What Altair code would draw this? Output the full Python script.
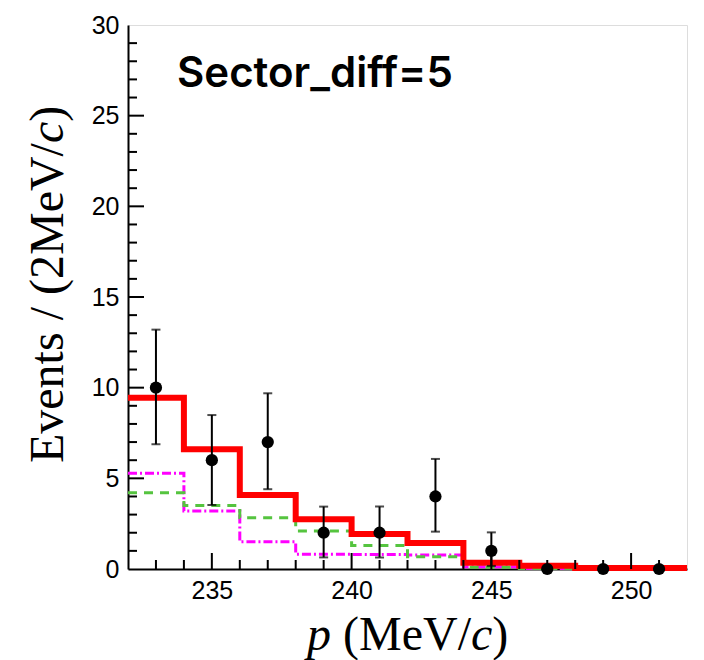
import altair as alt
import pandas as pd

# --- data ---
bin_edges = [232, 234, 236, 238, 240, 242, 244, 246, 248, 250, 252]
total_fit = [9.45, 6.6, 4.08, 2.74, 1.93, 1.43, 0.35, 0.18, 0.05, 0.05]
comp_green = [4.2, 3.5, 2.83, 2.1, 1.3, 0.68, 0.1, 0.03, 0.01, 0.01]
comp_magenta = [5.28, 3.2, 1.5, 0.81, 0.8, 0.77, 0.13, 0.03, 0.01, 0.01]

p_centers = [233, 235, 237, 239, 241, 243, 245, 247, 249, 251]
counts = [10, 6, 7, 2, 2, 4, 1, 0, 0, 0]
err_low = [6.88, 3.53, 4.4, 0.64, 0.64, 2.06, 0.17, 0, 0, 0]
err_high = [13.2, 8.49, 9.69, 3.44, 3.44, 6.07, 2.02, 0, 0, 0]

x_minor_ticks = [v for v in range(233, 252) if v % 5 != 0]
x_major_ticks = [235, 240, 245, 250]
y_minor_ticks = [v for v in range(1, 30) if v % 5 != 0]
y_major_ticks = [5, 10, 15, 20, 25]

# axis titles split into (text, italic, space before) pieces
x_title_parts = [("p", True, 0), ("(MeV/", False, 1), ("c", True, 0), (")", False, 0)]
y_title_parts = [("Events / (2MeV/", False, 0), ("c", True, 0), (")", False, 0)]

W, H = 559, 544
XS = alt.Scale(domain=[232, 252], nice=False, zero=False)
YS = alt.Scale(domain=[0, 30], nice=False, zero=False)
TITLE_SIZE = 48

# Times / Liberation Serif advance widths (em)
EM = {"E": .611, "v": .5, "e": .444, "n": .5, "t": .278, "s": .389, " ": .25,
      "/": .278, "(": .333, ")": .333, "2": .5, "M": .889, "V": .722,
      "c": .444, "p": .5}


def text_width(s):
    return sum(EM.get(ch, .5) for ch in s) * TITLE_SIZE


def hist_df(vals):
    return pd.DataFrame({"x": bin_edges, "y": list(vals) + [vals[-1]]})


pts = pd.DataFrame({"x": p_centers, "n": counts, "lo": err_low, "hi": err_high})

base_x = alt.X("x:Q", scale=XS,
               axis=alt.Axis(title="", values=x_major_ticks, ticks=False,
                             grid=False, labelFont="Liberation Sans", labelFontSize=25,
                             labelPadding=9, labelColor="black", domainColor="black",
                             domainWidth=2))
base_y = alt.Y("y:Q", scale=YS,
               axis=alt.Axis(title="", values=[0, 5, 10, 15, 20, 25, 30],
                             ticks=False, grid=False, labelFont="Liberation Sans",
                             labelFontSize=25, labelPadding=9, labelColor="black",
                             domainColor="black", domainWidth=2))

magenta = alt.Chart(hist_df(comp_magenta)).mark_line(
    interpolate="step-after", color="#ff00ff", strokeWidth=3, strokeDash=[9, 3, 2, 3]
).encode(x=base_x, y=base_y)

green = alt.Chart(hist_df(comp_green)).mark_line(
    interpolate="step-after", color="#55c43f", strokeWidth=3, strokeDash=[9, 7]
).encode(x=alt.X("x:Q", scale=XS), y=alt.Y("y:Q", scale=YS))

red = alt.Chart(hist_df(total_fit)).mark_line(
    interpolate="step-after", color="#ff0000", strokeWidth=6
).encode(x=alt.X("x:Q", scale=XS), y=alt.Y("y:Q", scale=YS))

err_base = alt.Chart(pts).transform_filter("datum.n > 0")
err_rule = err_base.mark_rule(color="black", strokeWidth=2).encode(
    x=alt.X("x:Q", scale=XS), y=alt.Y("lo:Q", scale=YS), y2="hi:Q")
cap_hi = err_base.mark_tick(orient="horizontal", color="black", size=9, thickness=2).encode(
    x=alt.X("x:Q", scale=XS), y=alt.Y("hi:Q", scale=YS))
cap_lo = err_base.mark_tick(orient="horizontal", color="black", size=9, thickness=2).encode(
    x=alt.X("x:Q", scale=XS), y=alt.Y("lo:Q", scale=YS))
dots = alt.Chart(pts).mark_circle(color="black", opacity=1, size=150).encode(
    x=alt.X("x:Q", scale=XS), y=alt.Y("n:Q", scale=YS))


def xticks(vals, length):
    return alt.Chart(pd.DataFrame({"t": vals})).mark_rule(color="black", strokeWidth=2).encode(
        x=alt.X("t:Q", scale=XS), y=alt.value(H), y2=alt.value(H - length))


def yticks(vals, length):
    return alt.Chart(pd.DataFrame({"t": vals})).mark_rule(color="black", strokeWidth=2).encode(
        y=alt.Y("t:Q", scale=YS), x=alt.value(0), x2=alt.value(length))


label = alt.Chart(pd.DataFrame({"t": ["Sector_diff=5"]})).mark_text(
    font="Inter", fontSize=42, fontWeight=600, align="left",
    baseline="alphabetic", color="black"
).encode(text="t:N", x=alt.value(49), y=alt.value(62))

# axis titles built from pieces so that the physics symbols can be italic
title_layers = []
cx = 179.0
for txt, ital, gap in x_title_parts:
    cx += gap * text_width(" ")
    title_layers.append(alt.Chart(pd.DataFrame({"t": [txt]})).mark_text(
        font="Liberation Serif", fontSize=TITLE_SIZE, fontStyle="italic" if ital else "normal",
        align="left", baseline="alphabetic", color="black"
    ).encode(text="t:N", x=alt.value(cx), y=alt.value(625)))
    cx += text_width(txt)

cy = 438.0
for txt, ital, gap in y_title_parts:
    cy -= gap * text_width(" ")
    title_layers.append(alt.Chart(pd.DataFrame({"t": [txt]})).mark_text(
        font="Liberation Serif", fontSize=TITLE_SIZE, fontStyle="italic" if ital else "normal",
        align="left", baseline="alphabetic", angle=270, color="black"
    ).encode(text="t:N", x=alt.value(-65), y=alt.value(cy)))
    cy -= text_width(txt)

chart = alt.layer(
    magenta, green, red,
    xticks(x_minor_ticks, 9), xticks(x_major_ticks, 16),
    yticks(y_minor_ticks, 9), yticks(y_major_ticks, 16),
    err_rule, cap_hi, cap_lo, dots, label, *title_layers
).properties(
    width=W, height=H,
    padding={"left": 128, "top": 25, "right": 17, "bottom": 91},
    autosize=alt.AutoSizeParams(type="none"),
).configure_view(stroke="black", strokeWidth=2).configure(background="white")

chart.save("out.html", embed_options={"renderer": "svg", "actions": False})
